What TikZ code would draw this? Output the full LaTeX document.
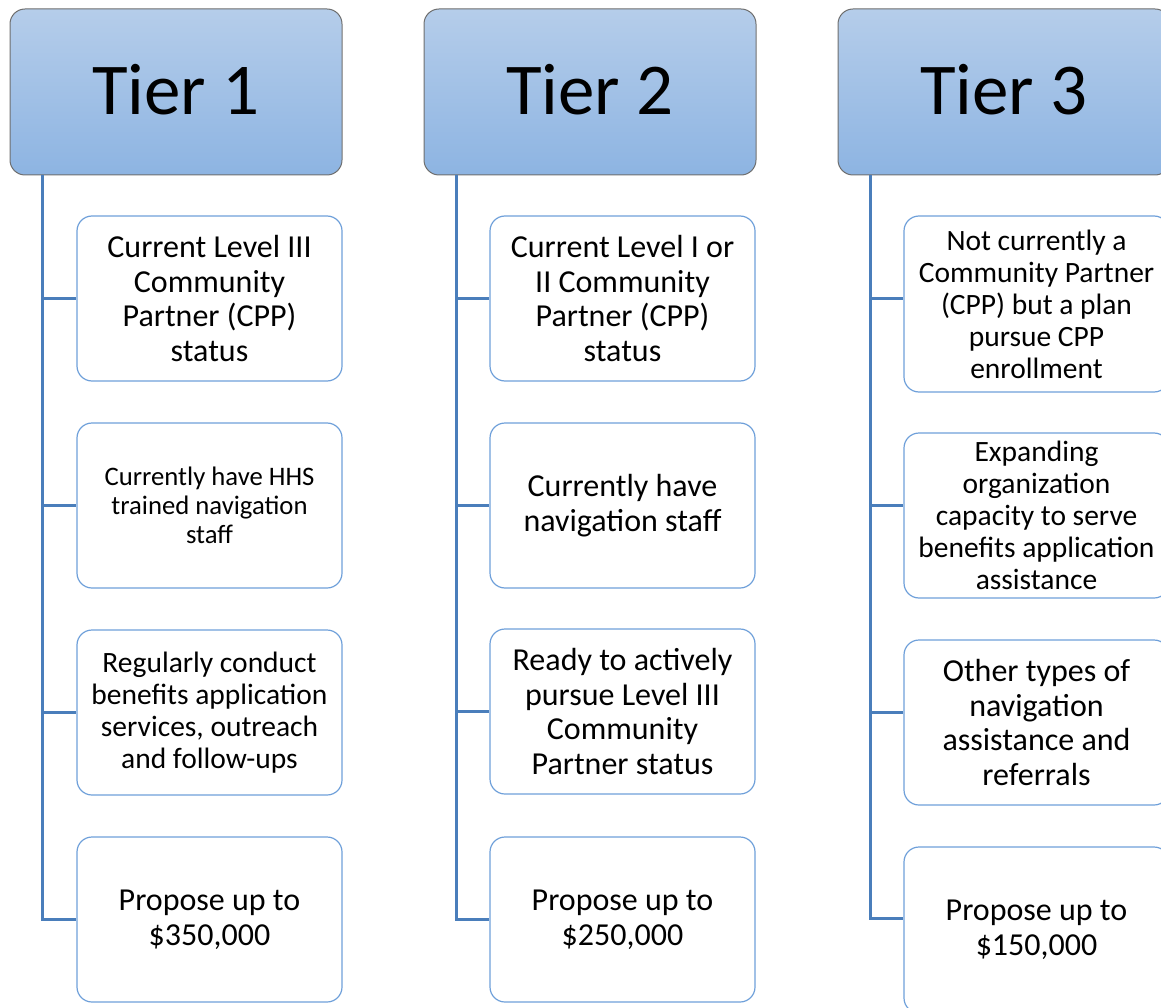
\documentclass[tikz,border=0pt]{standalone}
\usepackage{fontspec}
\setmainfont{Carlito}
\definecolor{hdrtop}{HTML}{B5CDEA}
\definecolor{hdrbot}{HTML}{8DB4E2}
\definecolor{hdrborder}{HTML}{6E6E6E}
\definecolor{itemborder}{HTML}{6FA0DA}
\definecolor{connc}{HTML}{4A7EBB}
\begin{document}
\begin{tikzpicture}[x=1pt,y=-1pt,
  header/.style={draw=hdrborder, line width=1pt, rounded corners=15pt,
    top color=hdrtop, bottom color=hdrbot, minimum width=332pt,
    minimum height=166pt, inner sep=0pt, text depth=6pt,
    font=\fontsize{73}{80}\selectfont},
  item/.style={draw=itemborder, line width=1.2pt, rounded corners=15pt,
    fill=white, minimum width=265pt, minimum height=165pt, align=center,
    inner sep=0pt},
  fbig/.style={font=\fontsize{32}{34.8}\selectfont},
  fmid/.style={font=\fontsize{29.5}{32}\selectfont},
  fsmall/.style={font=\fontsize{26.7}{29}\selectfont},
  conn/.style={draw=connc, line width=3pt}]
\useasboundingbox (0,0) rectangle (1161,1008);
\clip (0,0) rectangle (1161,1008);

% headers
\node[header] (h1) at (176,92) {Tier 1};
\node[header] (h2) at (590,92) {Tier 2};
\node[header] (h3) at (1004,92) {Tier 3};

% tier 1
\node[item,fbig]   (b11) at (209.5,298.5) {Current Level III\\Community\\Partner (CPP)\\status};
\node[item,fsmall] (b12) at (209.5,505.5) {Currently have HHS\\trained navigation\\staff};
\node[item,fmid]   (b13) at (209.5,712.5) {Regularly conduct\\benefits application\\services, outreach\\and follow-ups};
\node[item,fbig]   (b14) at (209.5,919.5) {Propose up to\\\$350,000};

% tier 2
\node[item,fbig] (b21) at (622.5,298.5) {Current Level I or\\II Community\\Partner (CPP)\\status};
\node[item,fbig] (b22) at (622.5,505.5) {Currently have\\navigation staff};
\node[item,fbig] (b23) at (622.5,711.5) {Ready to actively\\pursue Level III\\Community\\Partner status};
\node[item,fbig] (b24) at (622.5,919.5) {Propose up to\\\$250,000};

% tier 3
\node[item,fmid,minimum height=176pt] (b31) at (1036.5,304) {Not currently a\\Community Partner\\(CPP) but a plan\\pursue CPP\\enrollment};
\node[item,fmid] (b32) at (1036.5,515.5) {Expanding\\organization\\capacity to serve\\benefits application\\assistance};
\node[item,fbig] (b33) at (1036.5,722.5) {Other types of\\navigation\\assistance and\\referrals};
\node[item,fbig,minimum height=166pt] (b34) at (1036.5,930) {Propose up to\\\$150,000};

% connectors
\foreach \k in {1,2,3,4} {
  \draw[conn] ([xshift=33pt]h1.south west) |- (b1\k.west);
  \draw[conn] ([xshift=33pt]h2.south west) |- (b2\k.west);
}
\draw[conn] ([xshift=33pt]h3.south west) |- ([yshift=12pt]b34.west);
\draw[conn] ([xshift=33pt]h3.south west) |- ([yshift=6pt]b31.west);
\draw[conn] ([xshift=33pt]h3.south west) |- ([yshift=10.5pt]b32.west);
\draw[conn] ([xshift=33pt]h3.south west) |- ([yshift=10.5pt]b33.west);
\end{tikzpicture}
\end{document}
